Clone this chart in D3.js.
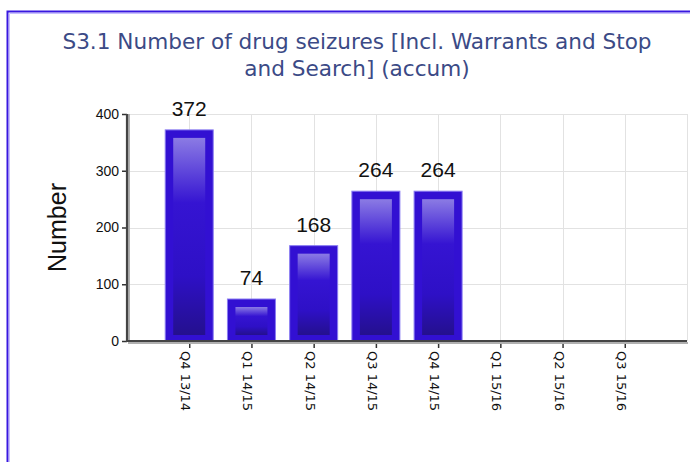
<!DOCTYPE html>
<html lang="en">
<head>
    <meta charset="UTF-8">
    <title>S3.1 Number of drug seizures</title>
    <script src="https://d3js.org/d3.v7.min.js"></script>
    <style>
        body { margin: 0; background: #fff; }
        text { font-family: "DejaVu Sans", sans-serif; }
    </style>
</head>
<body>
    <div id="chart"></div>
    <script>
        // data
        const quarters = ["Q4 13/14", "Q1 14/15", "Q2 14/15", "Q3 14/15", "Q4 14/15", "Q1 15/16", "Q2 15/16", "Q3 15/16"];
        const seizures = [372, 74, 168, 264, 264, null, null, null];
        const yTicks = [0, 100, 200, 300, 400];
        const titleLines = ["S3.1 Number of drug seizures [Incl. Warrants and Stop", "and Search] (accum)"];

        const W = 690, H = 462;
        const plot = { left: 127, right: 687, top: 114, bottom: 341 };

        const svg = d3.select("#chart").append("svg")
            .attr("width", W).attr("height", H);

        // frame (left + top edge only, right/bottom cut off)
        svg.append("path")
            .attr("d", `M7.5,${H} V11.5 H${W}`)
            .attr("fill", "none").attr("stroke", "#3818e0").attr("stroke-width", 2);
        svg.append("path")
            .attr("d", `M9.5,${H} V13.5 H${W}`)
            .attr("fill", "none").attr("stroke", "#c8c0ff").attr("stroke-width", 1);

        // title
        svg.append("g").selectAll("text")
            .data(titleLines).enter().append("text")
            .attr("x", 357).attr("y", (d, i) => 49 + i * 27)
            .attr("text-anchor", "middle")
            .style("font-size", "21.6px")
            .attr("fill", "#3b4a86")
            .text(d => d);

        const x = d3.scaleLinear().domain([0, quarters.length + 1]).range([plot.left, plot.right]);
        const y = d3.scaleLinear().domain([0, 400]).range([plot.bottom, plot.top]);

        // grid
        const grid = svg.append("g").attr("stroke", "#e2e2e2").attr("stroke-width", 1);
        grid.selectAll("line.h").data(yTicks.slice(1)).enter().append("line")
            .attr("x1", plot.left).attr("x2", plot.right)
            .attr("y1", d => Math.round(y(d)) + 0.5).attr("y2", d => Math.round(y(d)) + 0.5);
        grid.selectAll("line.v").data(quarters.map((q, i) => i + 1).concat([quarters.length + 1])).enter().append("line")
            .attr("x1", d => Math.round(x(d)) + 0.5).attr("x2", d => Math.round(x(d)) + 0.5)
            .attr("y1", plot.top).attr("y2", plot.bottom);

        // bar gradient
        const defs = svg.append("defs");
        const grad = defs.append("linearGradient").attr("id", "barGrad")
            .attr("x1", 0).attr("y1", 0).attr("x2", 0).attr("y2", 1);
        grad.append("stop").attr("offset", "0").attr("stop-color", "#8b7be4");
        grad.append("stop").attr("offset", "0.33").attr("stop-color", "#3514d2");
        grad.append("stop").attr("offset", "0.7").attr("stop-color", "#2e10c6");
        grad.append("stop").attr("offset", "1").attr("stop-color", "#24108e");

        const barW = 48, inset = 8;
        const bars = svg.append("g").selectAll("g")
            .data(quarters.map((q, i) => ({ q, v: seizures[i], i })).filter(d => d.v != null))
            .enter().append("g");

        bars.append("rect")
            .attr("x", d => x(d.i + 1) - barW / 2)
            .attr("y", d => y(d.v))
            .attr("width", barW)
            .attr("height", d => y(0) - y(d.v))
            .attr("fill", "#3210d2")
            .attr("stroke", "#8a7cf2").attr("stroke-width", 1);

        bars.append("rect")
            .attr("x", d => x(d.i + 1) - barW / 2 + inset)
            .attr("y", d => y(d.v) + inset)
            .attr("width", barW - 2 * inset)
            .attr("height", d => Math.max(0, y(0) - y(d.v) - 2 * inset + 2))
            .attr("fill", "url(#barGrad)");

        bars.append("text")
            .attr("x", d => x(d.i + 1))
            .attr("y", d => y(d.v) - 14)
            .attr("text-anchor", "middle")
            .style("font-family", "'Liberation Sans Narrow', 'Liberation Sans', sans-serif")
            .style("font-size", "21px")
            .attr("fill", "#111")
            .text(d => d.v);

        // axes
        const yAxis = svg.append("g")
            .attr("transform", `translate(${plot.left},0)`)
            .call(d3.axisLeft(y).tickValues(yTicks).tickSize(5).tickPadding(3));
        yAxis.select(".domain").remove();
        yAxis.selectAll(".tick line").attr("stroke", "#333").attr("stroke-width", 1.5);
        yAxis.selectAll(".tick text")
            .style("font-family", "'Liberation Sans Narrow', 'Liberation Sans', sans-serif")
            .style("font-size", "14px").attr("fill", "#111");

        const xAxis = svg.append("g")
            .attr("transform", `translate(0,${plot.bottom})`)
            .call(d3.axisBottom(x).tickValues(quarters.map((q, i) => i + 1)).tickSize(7).tickFormat(""));
        xAxis.select(".domain").remove();
        xAxis.selectAll(".tick line").attr("stroke", "#333").attr("stroke-width", 1.5);

        // axis lines with a soft shadow
        svg.append("path")
            .attr("d", `M${plot.left + 2},${plot.top} V${plot.bottom + 2} H${plot.right + 1}`)
            .attr("fill", "none").attr("stroke", "#b0b0b0").attr("stroke-width", 2);
        svg.append("path")
            .attr("d", `M${plot.left},${plot.top} V${plot.bottom} H${plot.right}`)
            .attr("fill", "none").attr("stroke", "#444").attr("stroke-width", 2.2);

        // rotated category labels
        svg.append("g").selectAll("text")
            .data(quarters).enter().append("text")
            .attr("transform", (d, i) => `translate(${x(i + 1) - 8},${plot.bottom + 10}) rotate(90)`)
            .attr("text-anchor", "start")
            .style("font-size", "13px")
            .attr("fill", "#111")
            .text(d => d);

        // y axis title
        svg.append("text")
            .attr("transform", `translate(66,${(plot.top + plot.bottom) / 2}) rotate(-90)`)
            .attr("text-anchor", "middle")
            .style("font-family", "'Liberation Sans', sans-serif")
            .style("font-size", "25px")
            .attr("fill", "#111")
            .text("Number");
    </script>
</body>
</html>
